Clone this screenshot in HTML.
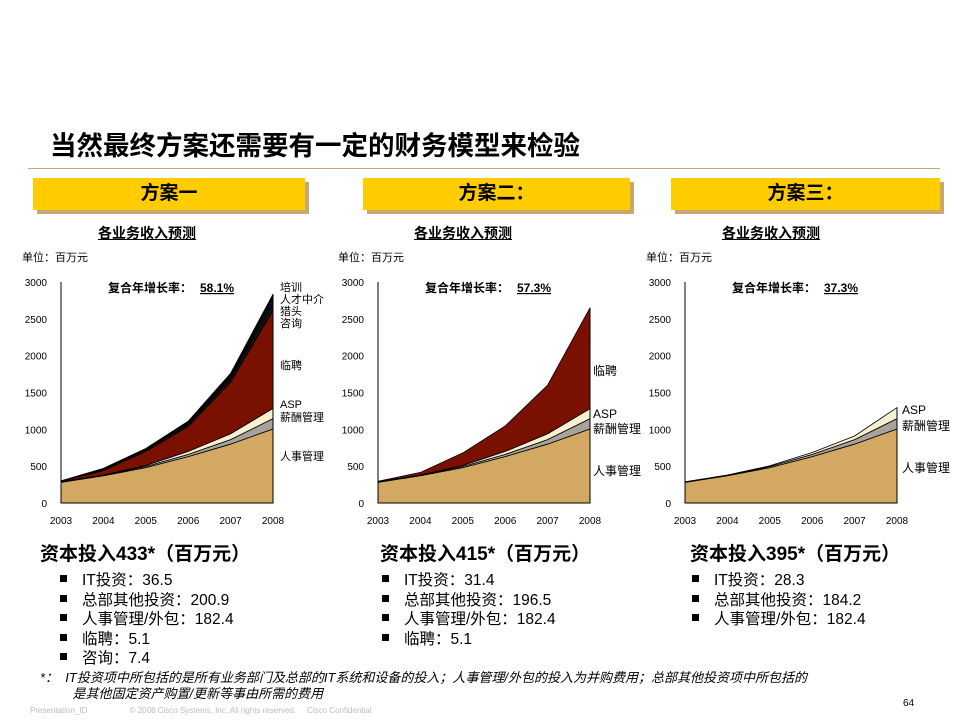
<!DOCTYPE html>
<html><head><meta charset="utf-8">
<style>
body{margin:0;background:#fff;}
#root{position:relative;width:960px;height:720px;overflow:hidden;font-family:"Liberation Sans","Noto Sans CJK SC",sans-serif;color:#000;}
.a{position:absolute;white-space:nowrap;}
.hdr{position:absolute;height:32px;background:#ffcc00;box-shadow:4px 4px 0 #c8a870;font-weight:bold;font-size:19px;text-align:center;line-height:32px;}
.sub{font-weight:bold;font-size:14px;text-decoration:underline;}
.cap{font-weight:bold;font-size:19px;}
.bl{font-size:15.5px;}
.bl::before{content:"";display:inline-block;width:7px;height:7px;background:#000;margin-right:15px;vertical-align:middle;position:relative;top:-2px;}
</style></head><body>
<div id="root">
<div class="a" style="left:50px;top:124px;font-size:26.5px;font-weight:bold;">当然最终方案还需要有一定的财务模型来检验</div>
<div class="a" style="left:28px;top:168px;width:912px;height:1px;background:#c8a870;"></div>

<div class="hdr" style="left:33px;top:178px;width:272px;">方案一</div>
<div class="hdr" style="left:363px;top:178px;width:267px;">方案二：</div>
<div class="hdr" style="left:671px;top:178px;width:269px;">方案三：</div>

<div class="a sub" style="left:98px;top:223px;">各业务收入预测</div>
<div class="a sub" style="left:414px;top:223px;">各业务收入预测</div>
<div class="a sub" style="left:722px;top:223px;">各业务收入预测</div>
<div class="a" style="left:22px;top:249px;font-size:11px;">单位：百万元</div>
<div class="a" style="left:338px;top:249px;font-size:11px;">单位：百万元</div>
<div class="a" style="left:646px;top:249px;font-size:11px;">单位：百万元</div>

<svg class="a" id="charts" style="left:0;top:0;" width="960" height="540"></svg>

<div class="a cap" style="left:40px;top:539px;">资本投入433*（百万元）</div>
<div class="a cap" style="left:380px;top:539px;">资本投入415*（百万元）</div>
<div class="a cap" style="left:690px;top:539px;">资本投入395*（百万元）</div>

<div class="a" style="left:60px;top:571px;line-height:19.5px;">
<div class="bl">IT投资：36.5</div><div class="bl">总部其他投资：200.9</div><div class="bl">人事管理/外包：182.4</div><div class="bl">临聘：5.1</div><div class="bl">咨询：7.4</div></div>
<div class="a" style="left:382px;top:571px;line-height:19.5px;">
<div class="bl">IT投资：31.4</div><div class="bl">总部其他投资：196.5</div><div class="bl">人事管理/外包：182.4</div><div class="bl">临聘：5.1</div></div>
<div class="a" style="left:692px;top:571px;line-height:19.5px;">
<div class="bl">IT投资：28.3</div><div class="bl">总部其他投资：184.2</div><div class="bl">人事管理/外包：182.4</div></div>

<div class="a" style="left:40px;top:670px;font-size:13px;font-style:italic;line-height:16px;">*：&nbsp; IT投资项中所包括的是所有业务部门及总部的IT系统和设备的投入；人事管理/外包的投入为并购费用；总部其他投资项中所包括的<br>&nbsp;&nbsp;&nbsp;&nbsp;&nbsp;&nbsp;&nbsp;&nbsp;&nbsp;是其他固定资产购置/更新等事由所需的费用</div>
<div class="a" style="left:30px;top:706px;font-size:8px;color:#bbb;">Presentation_ID &nbsp;&nbsp;&nbsp;&nbsp;&nbsp;&nbsp;&nbsp;&nbsp;&nbsp;&nbsp;&nbsp;&nbsp;&nbsp;&nbsp;&nbsp;&nbsp;&nbsp; © 2006 Cisco Systems, Inc. All rights reserved. &nbsp;&nbsp;&nbsp; Cisco Confidential</div>
<div class="a" style="left:903px;top:698px;font-size:10px;">64</div>
</div>
<script>
const years=["2003","2004","2005","2006","2007","2008"];
const yTicks=[0,500,1000,1500,2000,2500,3000];
const hr=[280,370,480,630,800,1005];
const pay1=[5,5,15,30,60,140];
const asp1=[5,5,15,40,80,140];
const temp1=[5,60,190,340,700,1330];
const consult1=[3,15,20,35,60,110];
const hunt1=[1,5,7,12,20,40];
const agency1=[1,5,7,12,20,40];
const train1=[0,5,6,11,20,30];
const pay2=[5,5,15,30,60,140];
const asp2=[5,5,15,40,80,135];
const temp2=[5,35,170,345,660,1370];
const pay3=[5,5,15,30,60,140];
const asp3=[3,5,10,25,50,150];
const growth=["58.1%","57.3%","37.3%"];
const NS="http://www.w3.org/2000/svg";
const svg=document.getElementById('charts');
function el(t,a,txt){const e=document.createElementNS(NS,t);for(const k in a)e.setAttribute(k,a[k]);if(txt!==undefined)e.textContent=txt;svg.appendChild(e);return e;}
const Y0=503,Y1=282;
function ys(v){return Y0-(v/3000)*(Y0-Y1);}
function chart(ox,idx,layers,labels){
  const x0=ox,x1=ox+212;
  const xs=i=>x0+i*(x1-x0)/5;
  let cum=years.map(()=>0);
  layers.forEach(L=>{
    const top=cum.map((c,i)=>c+L.v[i]);
    let d="M"+years.map((_,i)=>xs(i)+","+ys(top[i])).join(" L");
    for(let i=5;i>=0;i--)d+=" L"+xs(i)+","+ys(cum[i]);
    const p=el('path',{d:d+"Z",fill:L.c,stroke:'#000','stroke-width':0.8});
    
    
    cum=top;
  });
  const ax=el('path',{d:`M${x0},${Y1} L${x0},${Y0} L${x1},${Y0} L${x1},${ys(cum[5])}`,fill:'none',stroke:'#000','stroke-width':1});
  
  
  yTicks.forEach(t=>{const e=el('text',{x:x0-14,y:ys(t)+4,'font-size':10,'text-anchor':'end'},t);
    
    });
  years.forEach((y,i)=>{const e=el('text',{x:xs(i),y:524,'font-size':10,'text-anchor':'middle'},y);
    
    });
  const g=el('text',{x:x0+47,y:292,'font-size':12,'font-weight':'bold'},'复合年增长率：');
  
  
  const gv=el('text',{x:x0+139,y:292,'font-size':12,'font-weight':'bold','text-decoration':'underline'},growth[idx]);
  
  
  labels.forEach(l=>{const e=el('text',{x:x1+l[0],y:l[1],'font-size':l[3]||11},l[2]);
    
    });
}
const base=[{n:'hr',v:hr,c:'#d3a862'}];
chart(61,0,[...base,{n:'pay',v:pay1,c:'#a8a29c'},{n:'asp',v:asp1,c:'#f7f0cf'},{n:'temp',v:temp1,c:'#7a1000'},{n:'consult',v:consult1,c:'#111'},{n:'hunt',v:hunt1,c:'#223355'},{n:'agency',v:agency1,c:'#111'},{n:'train',v:train1,c:'#000'}],
 [[7,291,'培训'],[7,303,'人才中介'],[7,315,'猎头'],[7,327,'咨询'],[7,369,'临聘'],[7,408,'ASP'],[7,421,'薪酬管理'],[7,460,'人事管理']]);
chart(378,1,[...base,{n:'pay',v:pay2,c:'#a8a29c'},{n:'asp',v:asp2,c:'#f7f0cf'},{n:'temp',v:temp2,c:'#7a1000'}],
 [[3,375,'临聘',12],[3,418,'ASP',12],[3,433,'薪酬管理',12],[3,475,'人事管理',12]]);
chart(685,2,[...base,{n:'pay',v:pay3,c:'#a8a29c'},{n:'asp',v:asp3,c:'#f7f0cf'}],
 [[5,414,'ASP',12],[5,430,'薪酬管理',12],[5,472,'人事管理',12]]);
</script>
</body></html>
